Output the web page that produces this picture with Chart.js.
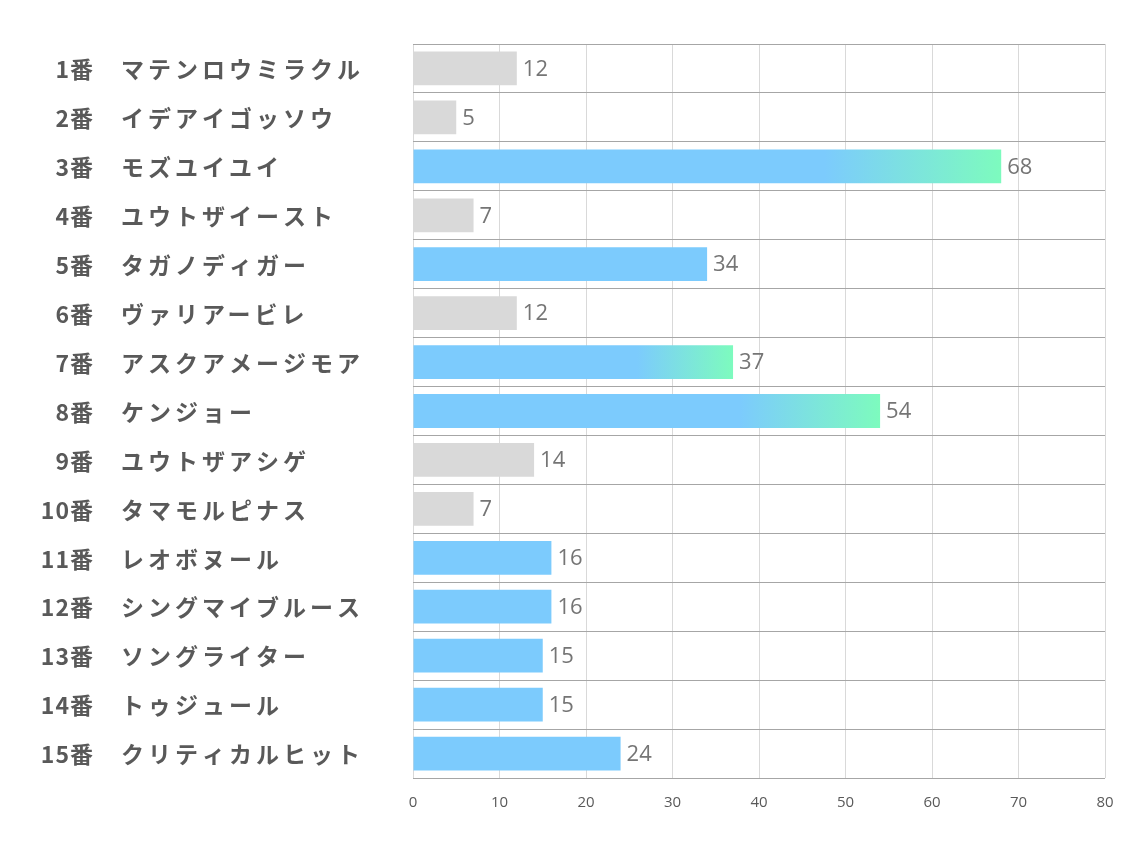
<!DOCTYPE html>
<html>
<head>
<meta charset="utf-8">
<script src="https://cdn.jsdelivr.net/npm/chart.js@4"></script>
<style>
  body { margin: 0; background: #fff; }
  canvas { display: block; }
</style>
</head>
<body>
<canvas id="graph" width="1134" height="850"></canvas>
<script>
// data
const numbers = ['1番', '2番', '3番', '4番', '5番', '6番', '7番', '8番', '9番', '10番', '11番', '12番', '13番', '14番', '15番'];
const horses = ['マテンロウミラクル', 'イデアイゴッソウ', 'モズユイユイ', 'ユウトザイースト', 'タガノディガー',
  'ヴァリアービレ', 'アスクアメージモア', 'ケンジョー', 'ユウトザアシゲ', 'タマモルピナス',
  'レオボヌール', 'シングマイブルース', 'ソングライター', 'トゥジュール', 'クリティカルヒット'];
const values = [12, 5, 68, 7, 34, 12, 37, 54, 14, 7, 16, 16, 15, 15, 24];
const xTicks = [0, 10, 20, 30, 40, 50, 60, 70, 80];

const blue = '#7ccbfd';
const mint = '#7dfbbe';
const grey = '#d9d9d9';

// top 3 get the gradient
const top3 = [...values].sort((a, b) => b - a).slice(0, 3);

function barColor(ctx) {
  const v = values[ctx.dataIndex];
  if (v < 15) return grey;
  if (!top3.includes(v)) return blue;
  const chart = ctx.chart;
  if (!chart.chartArea) return blue;
  const x = chart.scales.x;
  const x0 = x.getPixelForValue(v * 0.7);
  const x1 = x.getPixelForValue(v);
  const g = chart.ctx.createLinearGradient(x0, 0, x1, 0);
  g.addColorStop(0, blue);
  g.addColorStop(1, mint);
  return g;
}

// left labels + value labels
const labelPlugin = {
  id: 'labels',
  afterDraw(chart) {
    const c = chart.ctx;
    const y = chart.scales.y;
    c.save();
    c.fillStyle = '#595959';
    c.font = 'bold 23px "Noto Sans CJK JP"';
    c.textBaseline = 'middle';
    numbers.forEach((n, i) => {
      const py = y.getPixelForValue(i) + 1;
      c.letterSpacing = '1px';
      c.textAlign = 'right';
      c.fillText(n, 94, py);
      c.letterSpacing = '4px';
      c.textAlign = 'left';
      c.fillText(horses[i], 121, py);
    });
    c.letterSpacing = '0px';
    const meta = chart.getDatasetMeta(0);
    c.fillStyle = '#757575';
    c.font = '22px "Open Sans"';
    c.textAlign = 'left';
    meta.data.forEach((bar, i) => {
      c.fillText(values[i], bar.x + 6, bar.y + 1);
    });
    c.restore();
  }
};

const graph = document.getElementById('graph').getContext('2d');
let myChart = new Chart(graph, {
  type: 'bar',
  data: {
    labels: numbers,
    datasets: [{
      data: values,
      backgroundColor: barColor,
      borderWidth: 0,
      categoryPercentage: 1,
      barPercentage: 0.69
    }]
  },
  options: {
    indexAxis: 'y',
    responsive: false,
    animation: false,
    layout: {
      padding: { left: 413, right: 29, top: 44, bottom: 22 }
    },
    plugins: {
      legend: { display: false },
      tooltip: { enabled: false }
    },
    scales: {
      x: {
        min: 0,
        max: 80,
        afterBuildTicks(axis) {
          axis.ticks = xTicks.map(v => ({ value: v }));
        },
        grid: { color: '#d9d9d9', drawTicks: false },
        border: { display: false },
        ticks: {
          padding: 16,
          color: '#595959',
          font: { family: 'Open Sans', size: 15 }
        }
      },
      y: {
        grid: { color: '#a6a6a6', drawTicks: false, offset: true },
        border: { display: false },
        ticks: { display: false }
      }
    }
  },
  plugins: [labelPlugin]
});
</script>
</body>
</html>
